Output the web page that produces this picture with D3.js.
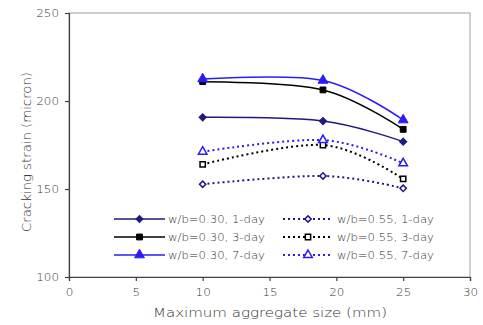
<!DOCTYPE html>
<html><head><meta charset="utf-8">
<script src="https://cdn.jsdelivr.net/npm/d3@7"></script>
<style>body{margin:0;background:#fff}text{font-family:"DejaVu Sans",sans-serif;font-weight:200}</style>
</head><body><svg id="c" width="483" height="325"></svg>
<script>
const sizes = [10, 19, 25];
const wb30_1day = [190.7, 188.6, 176.9];
const wb30_3day = [211.0, 206.3, 183.9];
const wb30_7day = [212.5, 211.7, 189.2];
const wb55_1day = [152.7, 157.4, 150.4];
const wb55_3day = [164.0, 175.0, 155.7];
const wb55_7day = [171.2, 177.8, 164.6];
const xTicks = [0, 5, 10, 15, 20, 25, 30];
const yTicks = [100, 150, 200, 250];
const seriesNames = ["w/b=0.30, 1-day","w/b=0.30, 3-day","w/b=0.30, 7-day","w/b=0.55, 1-day","w/b=0.55, 3-day","w/b=0.55, 7-day"];

const series = [
  {name: seriesNames[0], v: wb30_1day, color: "#1f1a80", dash: null, sym: "diamond", open: false, size: 26},
  {name: seriesNames[1], v: wb30_3day, color: "#000000", dash: null, sym: d3.symbolSquare, open: false, size: 34},
  {name: seriesNames[2], v: wb30_7day, color: "#2b1cf5", dash: null, sym: d3.symbolTriangle, open: false, size: 42},
  {name: seriesNames[3], v: wb55_1day, color: "#1f1a80", dash: "2,3", sym: "diamond", open: true, size: 20},
  {name: seriesNames[4], v: wb55_3day, color: "#000000", dash: "2,3", sym: d3.symbolSquare, open: true, size: 28},
  {name: seriesNames[5], v: wb55_7day, color: "#2b1cf5", dash: "2,3", sym: d3.symbolTriangle, open: true, size: 32}
];

const svg = d3.select("#c");
const L = 69, R = 470, T = 13, B = 277;
const x = d3.scaleLinear().domain([0, 30]).range([L, R]);
const y = d3.scaleLinear().domain([100, 250]).range([B, T]);

svg.append("rect").attr("x", L).attr("y", T).attr("width", R - L).attr("height", B - T)
  .attr("fill", "none").attr("stroke", "#a0a0a0").attr("stroke-width", 1);

const xa = svg.append("g").attr("transform", `translate(0,${B})`)
  .call(d3.axisBottom(x).tickValues(xTicks).tickSize(4).tickPadding(7));
const ya = svg.append("g").attr("transform", `translate(${L},0)`)
  .call(d3.axisLeft(y).tickValues(yTicks).tickSize(4).tickPadding(6));
[xa, ya].forEach(a => {
  a.selectAll("path,line").attr("stroke", "#404040").attr("stroke-width", 1.2);
  a.selectAll("text").attr("fill", "#333").attr("font-size", 11)
    .attr("textLength", function() { return this.textContent.length * 7.6; })
    .attr("lengthAdjust", "spacingAndGlyphs");
});

svg.append("text").attr("x", 270).attr("y", 317).attr("text-anchor", "middle")
  .attr("font-size", 12.5).attr("fill", "#333")
  .attr("textLength", 234).attr("lengthAdjust", "spacingAndGlyphs")
  .text("Maximum aggregate size (mm)");
svg.append("text").attr("transform", `translate(31,152) rotate(-90)`)
  .attr("text-anchor", "middle").attr("font-size", 12.5).attr("fill", "#333")
  .attr("textLength", 160).attr("lengthAdjust", "spacingAndGlyphs")
  .text("Cracking strain (micron)");

const line = d3.line().x(d => x(d[0])).y(d => y(d[1])).curve(d3.curveCatmullRom.alpha(0));

function marker(sel, s) {
  if (s.sym === "diamond") {
    sel.attr("d", d3.symbol().type(d3.symbolSquare).size(s.size));
  } else {
    sel.attr("d", d3.symbol().type(s.sym).size(s.size));
  }
  sel.attr("fill", s.open ? "#fff" : s.color)
    .attr("stroke", s.color).attr("stroke-width", s.open ? 1.5 : 1);
  return sel;
}
const rot = s => s.sym === "diamond" ? " rotate(45)" : "";

series.forEach(s => {
  const pts = sizes.map((k, i) => [k, s.v[i]]);
  svg.append("path").attr("d", line(pts)).attr("fill", "none")
    .attr("stroke", s.color).attr("stroke-width", s.dash ? 2 : 1.5)
    .attr("stroke-dasharray", s.dash);
  const m = svg.selectAll(null).data(pts).enter().append("path")
    .attr("transform", d => `translate(${x(d[0])},${y(d[1])})${rot(s)}`);
  marker(m, s);
});

const legCols = [{x0: 114, x1: 165, tx: 168}, {x0: 283, x1: 333, tx: 337}];
series.forEach((s, i) => {
  const c = legCols[Math.floor(i / 3)];
  const yy = 219 + (i % 3) * 18;
  const g = svg.append("g");
  g.append("line").attr("x1", c.x0).attr("x2", c.x1).attr("y1", yy).attr("y2", yy)
    .attr("stroke", s.color).attr("stroke-width", s.dash ? 2 : 1.5).attr("stroke-dasharray", s.dash);
  const m = g.append("path").attr("transform", `translate(${(c.x0 + c.x1) / 2},${yy})${rot(s)}`);
  marker(m, s);
  g.append("text").attr("x", c.tx).attr("y", yy + 4).attr("font-size", 11).attr("fill", "#333")
    .attr("textLength", 97).attr("lengthAdjust", "spacingAndGlyphs").text(s.name);
});
</script></body></html>
